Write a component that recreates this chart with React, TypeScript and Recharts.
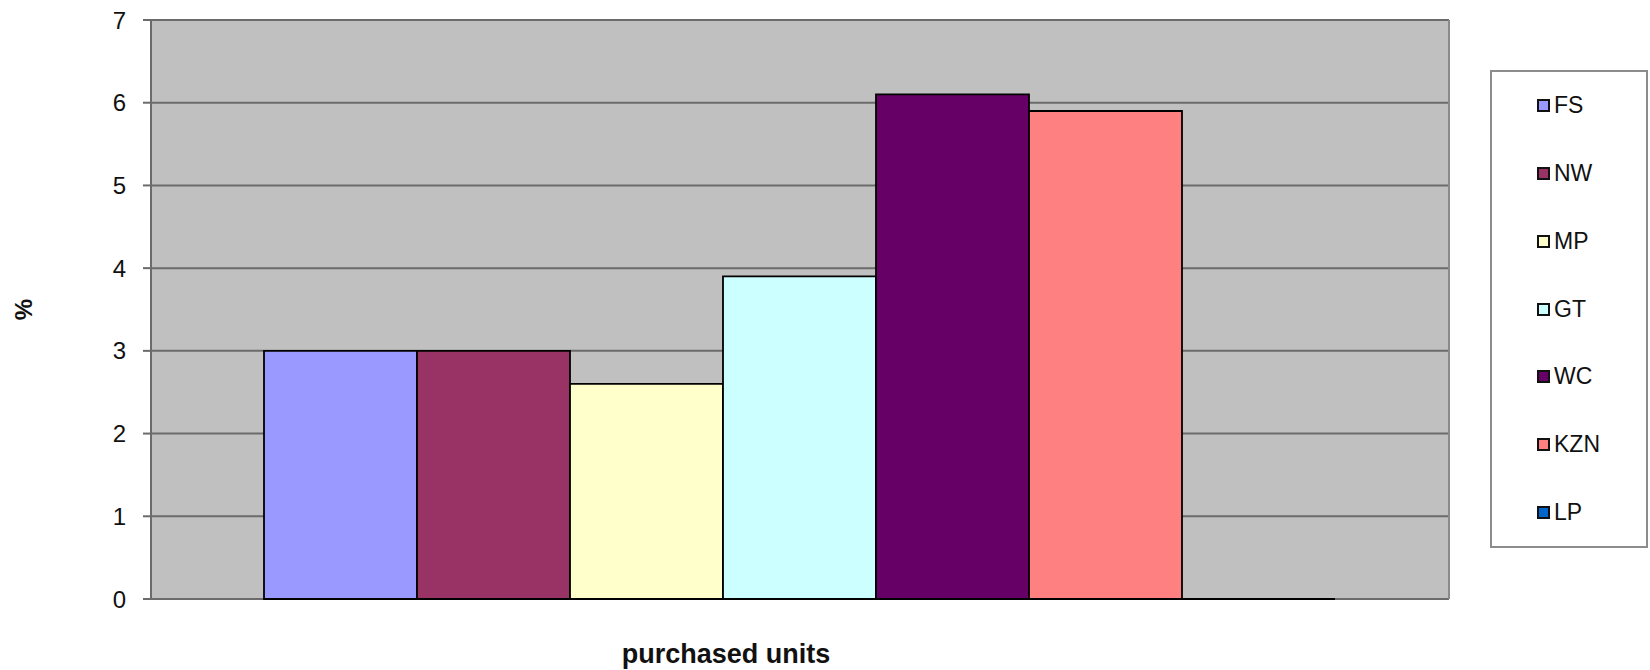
import React from 'react';
import { BarChart, Bar, XAxis, YAxis, CartesianGrid, Legend, Label } from 'recharts';

// Share of purchased units by province (%)
const regions = ['FS', 'NW', 'MP', 'GT', 'WC', 'KZN', 'LP'];
const shares = [3, 3, 2.6, 3.9, 6.1, 5.9, 0];
const regionColors = ['#9999FF', '#993366', '#FFFFCC', '#CCFFFF', '#660066', '#FF8080', '#0066CC'];
const yTicks = [0, 1, 2, 3, 4, 5, 6, 7];
const categoryTitle = 'purchased units';
const valueTitle = '%';

const FONT = '"Liberation Sans", Arial, Helvetica, sans-serif';

// one category row, one field per province
const row: Record<string, string | number> = { name: categoryTitle };
regions.forEach((r, i) => {
  row[r] = shares[i];
});
const data = [row];

// outlined box; also draws an outline for zero-height bars
const OutlinedBar = (p: any) => {
  const { x, y, width, height, fill } = p;
  if ([x, y, width, height].some((v) => typeof v !== 'number' || Number.isNaN(v))) return null;
  return (
    <path
      d={`M${x},${y}h${width}v${height}h${-width}Z`}
      fill={fill}
      stroke="#000"
      strokeWidth={1.8}
    />
  );
};

const RegionLegend = () => (
  <div
    style={{
      boxSizing: 'border-box',
      width: 158,
      height: 478,
      background: '#fff',
      border: '2px solid #8c8c8c',
      display: 'flex',
      flexDirection: 'column',
      paddingLeft: 45,
    }}
  >
    {regions.map((r, i) => (
      <div key={r} style={{ flex: 1, display: 'flex', alignItems: 'center' }}>
        <span
          style={{
            display: 'inline-block',
            boxSizing: 'border-box',
            width: 13,
            height: 13,
            border: '2px solid #111',
            background: regionColors[i],
            marginRight: 4,
          }}
        />
        <span style={{ fontFamily: FONT, fontSize: 23, color: '#111', lineHeight: 1 }}>{r}</span>
      </div>
    ))}
  </div>
);

const ValueTitle = (props: any) => {
  const vb = props.viewBox || { x: 0, y: 0, width: 0, height: 0 };
  const cx = vb.x + 23;
  const cy = vb.y + vb.height / 2;
  return (
    <text
      x={cx}
      y={cy}
      transform={`rotate(-90, ${cx}, ${cy})`}
      textAnchor="middle"
      dominantBaseline="central"
      fontFamily={FONT}
      fontSize={24}
      fontWeight="bold"
      fill="#111"
    >
      {valueTitle}
    </text>
  );
};

export default function App() {
  return (
    <div style={{ position: 'absolute', left: 0, top: 0, width: 1650, height: 670, background: '#fff' }}>
      <BarChart
        width={1650}
        height={670}
        data={data}
        margin={{ top: 20, right: 200, bottom: 0, left: 0 }}
        barGap={0}
        barCategoryGap={113}
      >
        {/* the grid line at 0 doubles as the base line, so bar outlines stay on top of it */}
        <CartesianGrid vertical={false} fill="#C0C0C0" stroke="#6b6b6b" strokeWidth={2} />
        <XAxis dataKey="name" tick={false} tickLine={false} height={71} axisLine={false}>
          <Label
            value={categoryTitle}
            position="insideBottom"
            offset={7}
            dx={-74}
            style={{ fontFamily: FONT, fontSize: 27, fontWeight: 'bold', fill: '#111' }}
          />
        </XAxis>
        <YAxis
          domain={[0, 7]}
          ticks={yTicks}
          interval={0}
          width={151}
          tickSize={8}
          tickMargin={17}
          axisLine={{ stroke: '#6b6b6b', strokeWidth: 2 }}
          tickLine={{ stroke: '#6b6b6b', strokeWidth: 2 }}
          tick={{ fill: '#111', fontSize: 24, fontFamily: FONT }}
        >
          <Label content={<ValueTitle />} />
        </YAxis>
        <YAxis
          yAxisId="frame"
          orientation="right"
          domain={[0, 7]}
          width={1}
          tick={false}
          tickLine={false}
          axisLine={{ stroke: '#8a8a8a', strokeWidth: 2 }}
        />
        <Legend
          layout="vertical"
          align="center"
          verticalAlign="middle"
          content={<RegionLegend />}
          wrapperStyle={{ left: 1490, top: 70, width: 158, height: 478 }}
        />
        {regions.map((r, i) => (
          <Bar
            key={r}
            dataKey={r}
            fill={regionColors[i]}
            shape={<OutlinedBar />}
            isAnimationActive={false}
          />
        ))}
      </BarChart>
    </div>
  );
}
